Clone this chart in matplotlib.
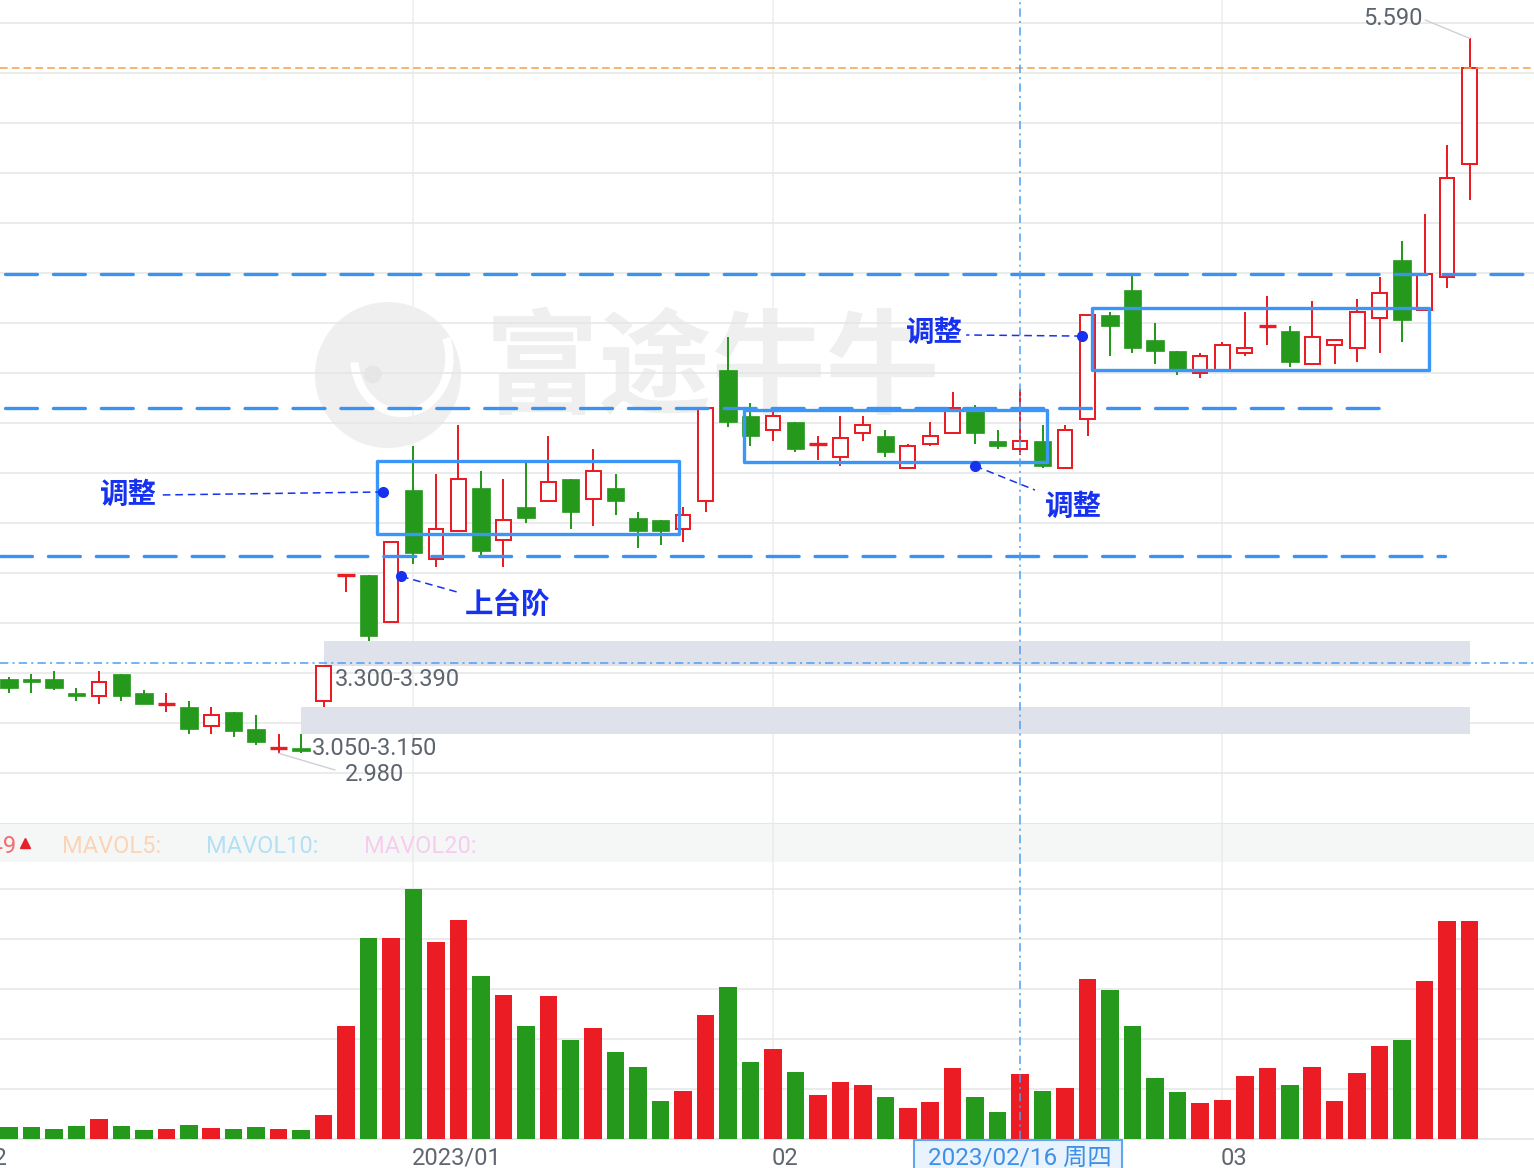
import numpy as np
import matplotlib
matplotlib.use('Agg')
import matplotlib.pyplot as plt
from matplotlib.patches import Rectangle, Ellipse, Arc
from matplotlib.transforms import blended_transform_factory

plt.rcParams['font.family'] = ['Roboto', 'Noto Sans CJK SC', 'DejaVu Sans']
plt.rcParams['lines.scale_dashes'] = False

# daily OHLC (A-share, 2022/12 .. 2023/03/16)
opens = [3.25, 3.25, 3.25, 3.20, 3.19, 3.27, 3.20, 3.16, 3.15, 3.08,
         3.13, 3.07, 3.00, 3.00, 3.17, 3.63, 3.63, 3.46, 3.94, 3.69,
         3.79, 3.95, 3.76, 3.88, 3.90, 3.98, 3.91, 3.95, 3.84, 3.83,
         3.80, 3.90, 4.38, 4.21, 4.16, 4.19, 4.11, 4.06, 4.15, 4.14,
         4.02, 4.11, 4.15, 4.24, 4.12, 4.09, 4.12, 4.02, 4.20, 4.58,
         4.67, 4.49, 4.45, 4.37, 4.38, 4.44, 4.54, 4.52, 4.40, 4.47,
         4.46, 4.57, 4.78, 4.60, 4.72, 5.13]
highs = [3.26, 3.27, 3.28, 3.22, 3.28, 3.27, 3.21, 3.20, 3.17, 3.15,
         3.13, 3.12, 3.05, 3.05, 3.30, 3.63, 3.63, 3.75, 4.10, 4.00,
         4.18, 4.01, 3.98, 4.04, 4.14, 3.98, 4.09, 4.00, 3.86, 3.83,
         3.88, 4.24, 4.50, 4.26, 4.24, 4.19, 4.14, 4.21, 4.21, 4.16,
         4.11, 4.19, 4.30, 4.25, 4.16, 4.31, 4.18, 4.18, 4.58, 4.59,
         4.73, 4.55, 4.45, 4.44, 4.48, 4.59, 4.65, 4.54, 4.63, 4.49,
         4.64, 4.72, 4.85, 4.95, 5.20, 5.59]
lows = [3.20, 3.20, 3.21, 3.17, 3.16, 3.17, 3.16, 3.13, 3.05, 3.05,
        3.04, 3.01, 2.98, 2.98, 3.15, 3.57, 3.39, 3.46, 3.67, 3.66,
        3.79, 3.70, 3.66, 3.82, 3.90, 3.80, 3.81, 3.85, 3.73, 3.74,
        3.75, 3.86, 4.17, 4.10, 4.12, 4.08, 4.05, 4.03, 4.12, 4.06,
        4.02, 4.10, 4.15, 4.11, 4.09, 4.07, 4.02, 4.02, 4.14, 4.43,
        4.44, 4.40, 4.36, 4.35, 4.38, 4.43, 4.47, 4.39, 4.40, 4.40,
        4.41, 4.44, 4.48, 4.60, 4.68, 5.00]
closes = [3.22, 3.24, 3.22, 3.19, 3.24, 3.19, 3.16, 3.16, 3.07, 3.12,
          3.06, 3.02, 3.00, 2.99, 3.30, 3.63, 3.41, 3.75, 3.71, 3.80,
          3.98, 3.72, 3.83, 3.84, 3.97, 3.86, 4.01, 3.90, 3.79, 3.79,
          3.85, 4.24, 4.19, 4.14, 4.21, 4.09, 4.11, 4.13, 4.18, 4.08,
          4.10, 4.14, 4.24, 4.15, 4.10, 4.12, 4.03, 4.16, 4.58, 4.54,
          4.46, 4.45, 4.38, 4.43, 4.47, 4.46, 4.54, 4.41, 4.50, 4.49,
          4.59, 4.66, 4.56, 4.73, 5.08, 5.48]
volumes = [25, 25, 21, 27, 41, 27, 19, 21, 28, 23,
           21, 25, 21, 19, 49, 227, 403, 403, 500, 395,
           438, 327, 289, 226, 286, 199, 223, 175, 145, 77,
           96, 248, 304, 155, 181, 135, 88, 115, 109, 84,
           62, 74, 142, 84, 55, 130, 96, 103, 321, 298,
           226, 122, 94, 73, 79, 127, 142, 109, 145, 77,
           133, 186, 198, 317, 436, 436]

tick_idx = [-4, 18, 34, 54]
tick_labels = ['2022/12', '2023/01', '02', '03']
cross_idx = 45
cross_label = '2023/02/16 周四'
cross_price = 3.31

# unfilled gaps: (low, high, start bar)
gaps = [(3.30, 3.39, 14), (3.05, 3.15, 13)]

# hand drawn annotations
support_lines = [(3.70, -0.4, 63.9), (4.24, -0.18, 61.2), (4.73, -0.18, 67.9)]
boxes = [(16.38, 29.82, 3.781, 4.047), (32.71, 46.19, 4.043, 4.233),
         (48.20, 63.20, 4.379, 4.605)]
notes = [  # text, text xy, ha, dot xy, leader end xy
    ('调整', (6.6, 3.923), 'right', (16.64, 3.934), (6.75, 3.923)),
    ('上台阶', (20.29, 3.521), 'left', (17.45, 3.626), (19.98, 3.568)),
    ('调整', (42.46, 4.514), 'right', (47.75, 4.503), (42.6, 4.507)),
    ('调整', (46.11, 3.879), 'left', (42.99, 4.029), (45.66, 3.941)),
]

RED = '#ec1c24'
GREEN = '#25991c'
GRID = '#e4e7e7'
BLUE_BOX = '#3b97f7'
NOTE_BLUE = '#1632ee'
CROSS = '#4d9ff5'
GRAY_TXT = '#5d646d'

W, H = 1534, 1168
fig = plt.figure(figsize=(W / 100, H / 100), dpi=100)
fig.patch.set_facecolor('white')


def fy(px):
    return 1 - px / H


ax = fig.add_axes([0, fy(823), 1, 823 / H])
strip = fig.add_axes([0, fy(862), 1, 39 / H], sharex=ax)
axv = fig.add_axes([0, fy(1139), 1, 277 / H], sharex=ax)

x = np.arange(len(opens))
up = [c >= o for o, c in zip(opens, closes)]
colors = [RED if u else GREEN for u in up]

ax.set_xlim(-0.4005, 67.87)
p_top, p_bot = 5.7298, 2.7256
ax.set_ylim(p_bot, p_top)
px_per = 823 / (p_top - p_bot)

for a in (ax, strip, axv):
    for s in a.spines.values():
        s.set_visible(False)
    a.tick_params(length=0, labelbottom=False, labelleft=False)
    a.set_axisbelow(True)
ax.set_xticks(tick_idx[1:])
ax.set_yticks(p_top - (23 + 50 * np.arange(16)) / px_per)
ax.grid(True, color=GRID, lw=1.1)
ax.grid(True, axis='x', color='#eff1f1', lw=1.3)

# watermark
ax.text(0.316, 0.548, '富途牛牛', transform=ax.transAxes, fontsize=82,
        color='#efefef', family=['Noto Sans CJK SC'], fontweight='bold',
        ha='left', va='center', zorder=0.1)
ax.add_patch(Ellipse((0.2529, 0.5443), 146 / W, 146 / 823, transform=ax.transAxes,
                     fc='#efefef', ec='none', zorder=0.1))
ax.add_patch(Arc((0.262, 0.565), 95 / W, 110 / 823, theta1=190, theta2=40,
                 transform=ax.transAxes, color='white', lw=6, zorder=0.15))
ax.add_patch(Ellipse((0.243, 0.545), 18 / W, 18 / 823, transform=ax.transAxes,
                     fc='#e6e6e6', ec='none', zorder=0.2))

# gap bands
for lo, hi, start in gaps:
    ax.add_patch(Rectangle((start, lo), len(opens) - 1 - start, hi - lo,
                           fc='#dfe2ea', ec='none', zorder=1.5))
    ax.annotate(f'{lo:.3f}-{hi:.3f}', xy=(start, lo), xytext=(7.8, -10),
                textcoords='offset points', ha='left', va='center',
                fontsize=17, color=GRAY_TXT, zorder=5)

# candles
for i in x:
    c = colors[i]
    ax.vlines(i, lows[i], highs[i], color=c, lw=1.44, zorder=2)
    o, cl = opens[i], closes[i]
    if o == cl:
        ax.hlines(cl, i - 0.385, i + 0.385, color=c, lw=2.4, zorder=3)
    elif up[i]:
        ax.add_patch(Rectangle((i - 0.327, o), 0.654, cl - o, fc='white',
                               ec=c, lw=1.44, zorder=3))
    else:
        ax.add_patch(Rectangle((i - 0.39, cl), 0.78, o - cl, fc=c,
                               ec=c, lw=0.5, zorder=3))

# current price
ax.axhline(closes[-1], color='#f2a14a', lw=1.1, dashes=(5.5, 3), zorder=4)

# crosshair
for a in (ax, strip, axv):
    a.axvline(cross_idx, color=CROSS, lw=1.1, dashes=(6, 3, 1.5, 3), zorder=6)
ax.axhline(cross_price, color=CROSS, lw=1.1, dashes=(6, 3, 1.5, 3), zorder=4)

# support lines
for price, x0, x1 in support_lines:
    ax.plot([x0, x1], [price, price], color='#3a93f3', lw=2.4,
            dashes=(23, 11.5), dash_capstyle='round', zorder=4)

# boxes
for x0, x1, y0, y1 in boxes:
    ax.add_patch(Rectangle((x0, y0), x1 - x0, y1 - y0, fc='none', ec=BLUE_BOX,
                           lw=2.4, joinstyle='round', zorder=4))

# notes
for txt, (tx, ty), ha, (dx, dy), (lx, ly) in notes:
    ax.plot([dx, lx], [dy, ly], color=NOTE_BLUE, lw=1.1, dashes=(5.5, 3.5), zorder=5)
    ax.plot(dx, dy, 'o', color=NOTE_BLUE, ms=7, zorder=5)
    ax.text(tx, ty, txt, ha=ha, va='center', fontsize=20.5, color=NOTE_BLUE,
            family=['Noto Sans CJK SC'], fontweight='bold', zorder=5)

# high / low markers
hi_i = int(np.argmax(highs))
lo_i = int(np.argmin(lows))
ax.annotate('', xy=(hi_i, highs[hi_i]), xytext=(-32, 13.2), textcoords='offset points',
            arrowprops=dict(arrowstyle='-', color='#cdd1d5', lw=1, shrinkA=0, shrinkB=0))
ax.annotate(f'{highs[hi_i]:.3f}', xy=(hi_i, highs[hi_i]), xytext=(-34, 14.6),
            textcoords='offset points', ha='right', va='center', fontsize=17,
            color=GRAY_TXT)
ax.annotate('', xy=(lo_i, lows[lo_i]), xytext=(40.6, -12), textcoords='offset points',
            arrowprops=dict(arrowstyle='-', color='#cdd1d5', lw=1, shrinkA=0, shrinkB=0))
ax.annotate(f'{lows[lo_i]:.3f}', xy=(lo_i, lows[lo_i]), xytext=(47.8, -15.6),
            textcoords='offset points', ha='left', va='center', fontsize=17,
            color=GRAY_TXT)

# MAVOL strip
strip.set_facecolor('#f5f7f7')
strip.set_ylim(0, 1)
strip.spines['top'].set_visible(True)
strip.spines['top'].set_color('#e4e7e7')
strip.grid(True, axis='x', color='#eceeee', lw=1.3)
strip.text(17 / W, 0.4, 'VOL:112.49', transform=strip.transAxes, ha='right',
           va='center', fontsize=17, color='#f36d6d')
strip.plot(24.5 / W, 0.48, marker='^', ms=7, color='#e62129',
           transform=strip.transAxes, clip_on=False)
for name, xp, col in [('MAVOL5:', 62, '#fbd4b5'), ('MAVOL10:', 206, '#b4e0f4'),
                      ('MAVOL20:', 364, '#f6cdee')]:
    strip.text(xp / W, 0.4, name, transform=strip.transAxes, ha='left',
               va='center', fontsize=17, color=col)

# volume
axv.bar(x, volumes, width=0.78, color=colors, zorder=2)
axv.set_ylim(0, 554)
axv.set_yticks([100, 200, 300, 400, 500])
axv.grid(True, color=GRID, lw=1.1)
axv.grid(True, axis='x', color='#eff1f1', lw=1.3)
axv.axhline(0, color=GRID, lw=1.3, clip_on=False, zorder=1)

tv = blended_transform_factory(axv.transData, axv.transAxes)
for ti, tl in zip(tick_idx, tick_labels):
    axv.annotate(tl, xy=(ti, 0), xycoords=tv, xytext=(-1, -14),
                 textcoords='offset points', ha='left', va='center', fontsize=17,
                 color='#5f6670', annotation_clip=False)

axv.add_patch(Rectangle((40.28, -0.125), 49.53 - 40.28, 0.1214, transform=tv,
                        clip_on=False, fc='#e9f3fd', ec='#5ea6f2', lw=1.5, zorder=7))
axv.text(cross_idx, -0.0686, cross_label, transform=tv, ha='center', va='center',
         fontsize=17.5, color='#3f8fe6', zorder=8, clip_on=False)

fig.savefig('out.png', dpi=100, facecolor='white')
